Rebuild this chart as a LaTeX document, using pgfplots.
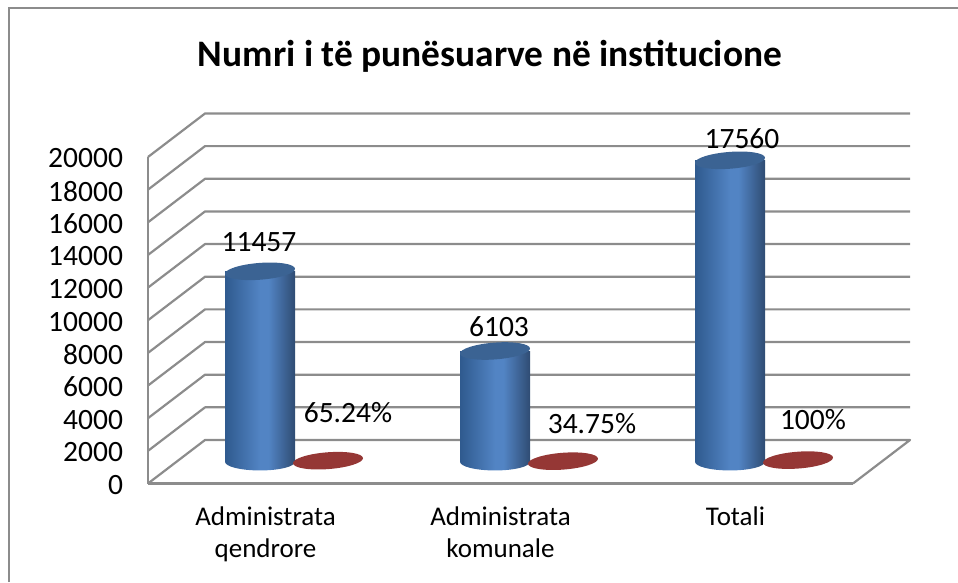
\documentclass[border=0pt]{standalone}
\usepackage{pgfplots}
\pgfplotsset{compat=1.18}
\usepackage{fontspec}
\setmainfont{Carlito}
\definecolor{gridc}{HTML}{8C8C8C}
\definecolor{cyldark}{HTML}{2F5A8E}
\definecolor{cylmid}{HTML}{5284C4}
\definecolor{cylright}{HTML}{2F4C73}
\definecolor{cyltop}{HTML}{3B6393}
\definecolor{redc}{HTML}{953735}
\pgfdeclarehorizontalshading{cyl}{100bp}{color(0bp)=(cyldark); color(25bp)=(cyldark); color(50bp)=(cylmid); color(56bp)=(cylmid); color(75bp)=(cylright); color(100bp)=(cylright)}
\pgfdeclareplotmark{cyltopm}{\pgfpathellipse{\pgfpointorigin}{\pgfqpoint{35pt}{2.6pt}}{\pgfqpoint{-0.4pt}{8.4pt}}\pgfusepathqfill}
\pgfdeclareplotmark{cylbot}{\pgfpathellipse{\pgfpointorigin}{\pgfqpoint{35pt}{0pt}}{\pgfqpoint{0pt}{8.7pt}}\pgfshadepath{cyl}{0}\pgfusepath{discard}}
\newcommand{\fs}{\fontsize{29.5}{32}\selectfont}
\newcommand{\fc}{\fontsize{27}{32}\selectfont}
\begin{document}
\begin{tikzpicture}[x=1pt,y=1pt]
\useasboundingbox (0,0) rectangle (958,582);
\draw[gridc,line width=2pt] (9,0) -- (9,573.5) -- (958,573.5);
\node[font=\fontsize{37.4}{44}\selectfont\bfseries] at (490,526) {Numri i të punësuarve në institucione};
% front plane: value axis, categories, walls and floor
\begin{axis}[
  name=front, anchor=south west, at={(148pt,98.5pt)},
  scale only axis, width=705pt, height=326.5pt,
  xmin=-0.5, xmax=2.5, ymin=0, ymax=20000,
  clip=false, axis x line*=bottom, axis y line*=left,
  axis line style={gridc,line width=2.2pt,-},
  major tick length=0pt,
  xtick={0,1,2},
  xticklabels={{Administrata\\qendrore},{Administrata\\komunale},{Totali}},
  xticklabel style={align=center,font=\fc,yshift=-20pt},
  ytick={0,2000,...,20000},
  scaled y ticks=false,
  yticklabel style={font=\fs,xshift=-21.5pt,yshift=-1.5pt},
  /pgf/number format/assume math mode=true,
  /pgf/number format/1000 sep={},
  unbounded coords=jump,
]
\addplot[gridc,line width=2.2pt,line join=round] coordinates {
 (-0.5,0) (-0.2574,2665) (2.7426,2665) (2.5,0) (-0.5,inf)
 (-0.5,2000) (-0.2574,4665) (2.7426,4665) (-0.5,inf)
 (-0.5,4000) (-0.2574,6665) (2.7426,6665) (-0.5,inf)
 (-0.5,6000) (-0.2574,8665) (2.7426,8665) (-0.5,inf)
 (-0.5,8000) (-0.2574,10665) (2.7426,10665) (-0.5,inf)
 (-0.5,10000) (-0.2574,12665) (2.7426,12665) (-0.5,inf)
 (-0.5,12000) (-0.2574,14665) (2.7426,14665) (-0.5,inf)
 (-0.5,14000) (-0.2574,16665) (2.7426,16665) (-0.5,inf)
 (-0.5,16000) (-0.2574,18665) (2.7426,18665) (-0.5,inf)
 (-0.5,18000) (-0.2574,20665) (2.7426,20665) (-0.5,inf)
 (-0.5,20000) (-0.2574,22665) (2.7426,22665)
};
\end{axis}
% mid-depth plane: the two series
\begin{axis}[
  anchor=south west, at={(177.5pt,120.25pt)},
  scale only axis, width=705pt, height=326.5pt,
  xmin=-0.5, xmax=2.5, ymin=0, ymax=20000,
  clip=false, hide axis,
]
\addplot[only marks,mark=cylbot,mark options={xshift=-35pt}] coordinates {(0,0)(1,0)(2,0)};
\addplot[ybar,bar width=70pt,bar shift=-35pt,shading=cyl,draw=none,mark=none] coordinates {(0,11665)};
\addplot[ybar,bar width=70pt,bar shift=-35pt,shading=cyl,draw=none,mark=none] coordinates {(1,6784)};
\addplot[ybar,bar width=70pt,bar shift=-35pt,shading=cyl,draw=none,mark=none] coordinates {(2,18465)};
\addplot[only marks,mark=cyltopm,color=cyltop,mark options={xshift=-35pt,fill=cyltop,draw=none}] coordinates {(0,11665)(1,6784)(2,18465)};
\addplot[only marks,mark=cyltopm,color=redc,mark options={xshift=33pt,fill=redc,draw=none}] coordinates {(0,65.24)(1,34.75)(2,100)};
\node[font=\fs] at (axis cs:0,11665) [xshift=-36pt,yshift=29pt] {11457};
\node[font=\fs] at (axis cs:1,6784) [xshift=-31pt,yshift=24pt] {6103};
\node[font=\fs] at (axis cs:2,18465) [xshift=-23pt,yshift=22pt] {17560};
\node[font=\fs] at (axis cs:0,65.24) [xshift=53pt,yshift=48pt] {65.24\%};
\node[font=\fs] at (axis cs:1,34.75) [xshift=62pt,yshift=38pt] {34.75\%};
\node[font=\fs] at (axis cs:2,100) [xshift=48pt,yshift=41pt] {100\%};
\end{axis}
\end{tikzpicture}
\end{document}
